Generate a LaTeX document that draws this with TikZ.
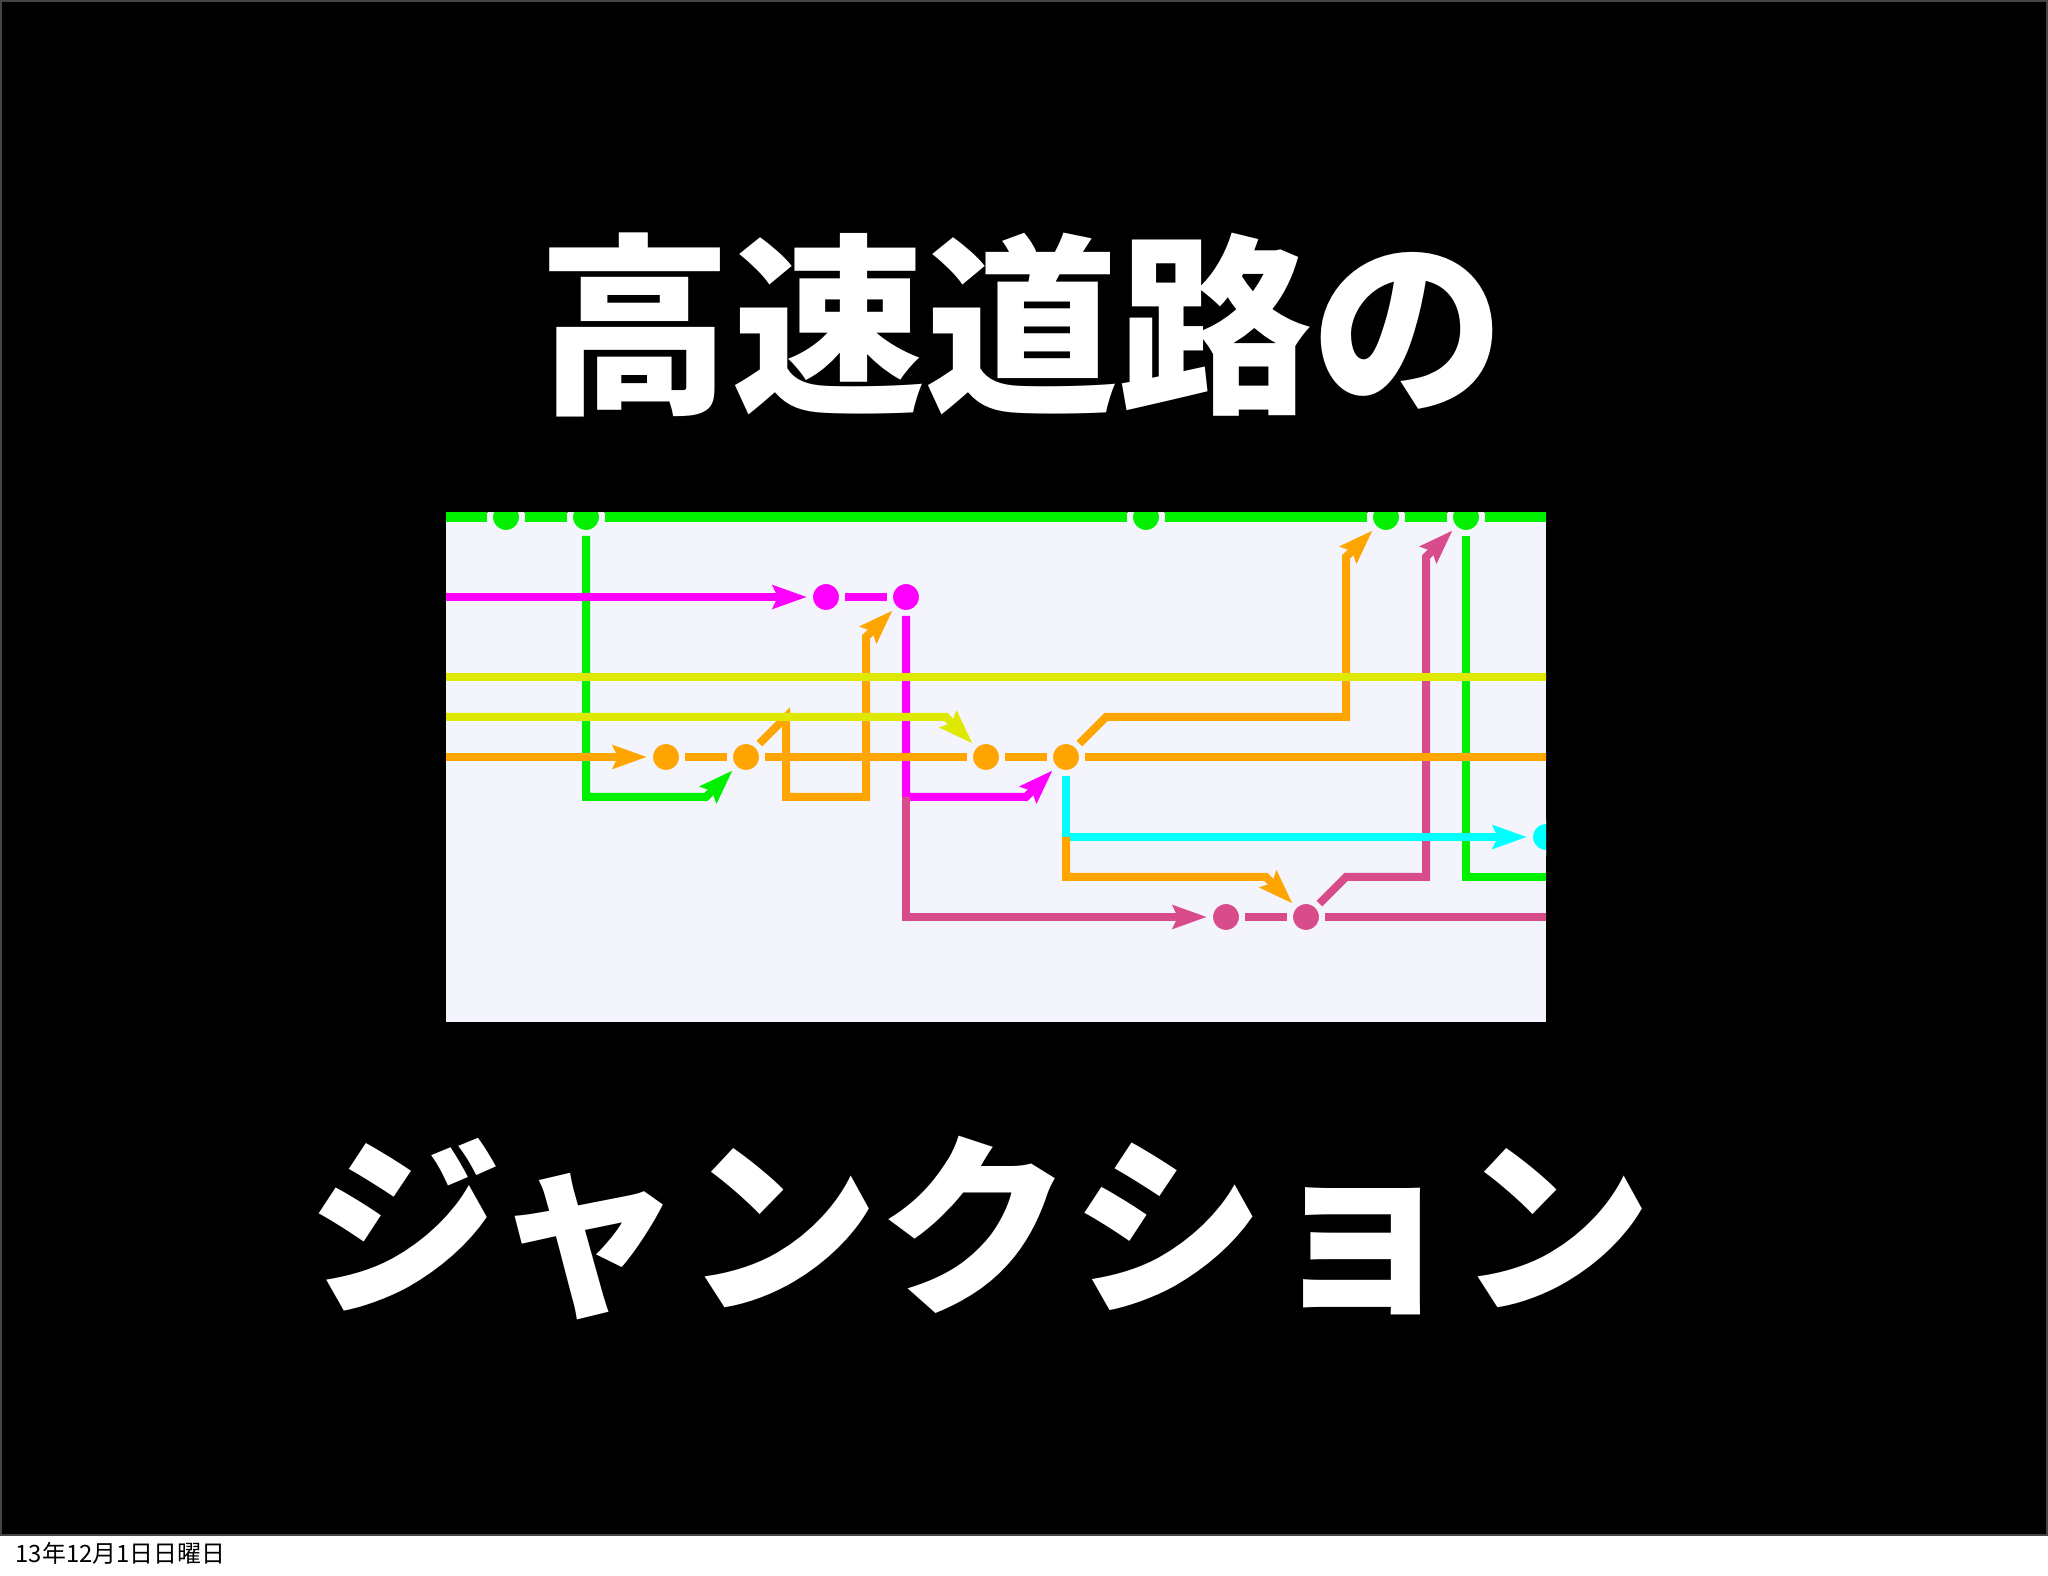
\documentclass[tikz,border=0pt]{standalone}
\usepackage{fontspec}
\newfontfamily\jpfont{Noto Sans CJK JP}
\usetikzlibrary{arrows.meta}
\definecolor{graphbg}{RGB}{243,244,252}
\definecolor{gitgreen}{RGB}{0,240,0}
\definecolor{gitmagenta}{RGB}{255,0,255}
\definecolor{gityellow}{RGB}{222,232,0}
\definecolor{gitorange}{RGB}{255,165,0}
\definecolor{gitcyan}{RGB}{0,255,255}
\definecolor{gitpink}{RGB}{217,76,140}
\definecolor{slideedge}{RGB}{70,70,70}
\begin{document}
\begin{tikzpicture}[x=0.1mm,y=-0.1mm,
    commit/.style={circle,inner sep=0pt,minimum size=3.2mm,fill=#1,draw=graphbg,line width=0.6mm},
    lane/.style={draw=#1,line width=0.8mm},
    toarrow/.style={-{Stealth[length=3.4mm,width=2.3mm,inset=0.5mm]}},
    bigtext/.style={text=white,inner sep=0pt,font=\jpfont\bfseries\fontsize{55pt}{60pt}\selectfont}]
  \useasboundingbox (0,0) rectangle (2048,1576);
  \fill[white] (0,0) rectangle (2048,1576);
  \fill[black] (0,0) rectangle (2048,1536);
  \draw[slideedge,line width=0.2mm] (1,1) rectangle (2047,1535);
  \node[bigtext] (head) at (1022,325) {高速道路の};
  \node[bigtext] (sub) at (980,1228) {ジャンクション};
  \node[anchor=base west,inner sep=0pt,font=\jpfont\fontsize{6.8pt}{8pt}\selectfont] (date) at (15,1562) {13年12月1日日曜日};
  \fill[graphbg] (446,513) rectangle (1546,1022);
  \begin{scope}
    \clip (446,513) rectangle (1546,1022);
    \begin{scope}[shift={(50.6mm,-51.7mm)},x=8mm,y=-4mm]
      \node[commit=gitgreen] (g1) at (0,0) {};
      \node[commit=gitgreen] (g2) at (1,0) {};
      \node[commit=gitgreen] (g3) at (8,0) {};
      \node[commit=gitgreen] (g4) at (11,0) {};
      \node[commit=gitgreen] (g5) at (12,0) {};
      \node[commit=gitmagenta] (m1) at (4,2) {};
      \node[commit=gitmagenta] (m2) at (5,2) {};
      \node[commit=gitorange] (o1) at (2,6) {};
      \node[commit=gitorange] (o2) at (3,6) {};
      \node[commit=gitorange] (o3) at (6,6) {};
      \node[commit=gitorange] (o4) at (7,6) {};
      \node[commit=gitpink] (p1) at (9,10) {};
      \node[commit=gitpink] (p2) at (10,10) {};
      \node[commit=gitcyan] (c1) at (13,8) {};
      \coordinate (mfork) at (5,7);
      \coordinate (cfork) at (7,8);

      \draw[lane=gitgreen,toarrow] (g2) |- (2.5,7) -- (o2);
      \draw[lane=gitgreen] (g5) |- (13.5,9);
      \draw[lane=gitmagenta,toarrow] (m2) -- (mfork) -- (6.5,7) -- (o4);
      \draw[lane=gitpink,toarrow] (mfork) |- (p1);
      \draw[lane=gitpink,toarrow] (p2) -- (10.5,9) -- (11.5,9) -- (11.5,1) -- (g5);
      \draw[lane=gitorange,toarrow] (o2) -- (3.5,5) -- (3.5,7) -- (4.5,7) -- (4.5,3) -- (m2);
      \draw[lane=gitorange,toarrow] (o4) -- (7.5,5) -- (10.5,5) -- (10.5,1) -- (g4);
      \draw[lane=gitcyan,toarrow] (o4) |- (c1);
      \draw[lane=gitorange,toarrow] (cfork) |- (9.5,9) -- (p2);
      \draw[lane=gityellow,toarrow] (-1,5) -- (5.5,5) -- (o3);

      \draw[lane=gityellow] (-1,4) -- (13.5,4);
      \draw[lane=gitorange,toarrow] (-1,6) -- (o1);
      \draw[lane=gitorange] (o1) -- (o2) (o2) -- (o3) (o3) -- (o4) (o4) -- (13.5,6);
      \draw[lane=gitmagenta,toarrow] (-1,2) -- (m1);
      \draw[lane=gitmagenta] (m1) -- (m2);
      \draw[lane=gitgreen,line width=1mm] (-1,0) -- (g1) (g1) -- (g2) (g2) -- (g3) (g3) -- (g4) (g4) -- (g5) (g5) -- (13.5,0);
      \draw[lane=gitpink] (p1) -- (p2) (p2) -- (13.5,10);
    \end{scope}
  \end{scope}
\end{tikzpicture}
\end{document}
